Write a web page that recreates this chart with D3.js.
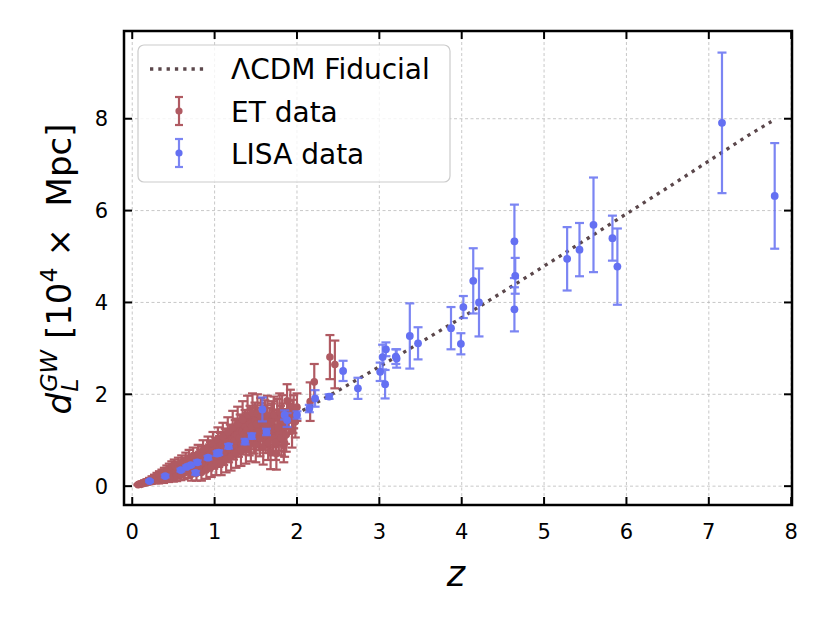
<!DOCTYPE html>
<html>
<head>
<meta charset="utf-8">
<script src="https://cdn.jsdelivr.net/npm/d3@7"></script>
<style>
  body { margin: 0; background: #fff; }
  text { font-family: "DejaVu Sans", sans-serif; }
</style>
</head>
<body>
<svg id="chart" width="830" height="623"></svg>
<script>
// fiducial LCDM curve (z, d_L in 1e4 Mpc)
const fidZ = [0.05, 0.1, 0.25, 0.5, 0.75, 1.0, 1.25, 1.5, 1.75, 2.0, 2.5, 3.0, 3.5, 4.0, 4.5, 5.0, 5.5, 6.0, 6.5, 7.0, 7.5, 7.76];
const fidD = [0.023, 0.046, 0.126, 0.286, 0.466, 0.666, 0.88, 1.11, 1.34, 1.58, 2.08, 2.6, 3.13, 3.67, 4.23, 4.79, 5.36, 5.93, 6.5, 7.08, 7.66, 7.94];

// ET data
const etZ = [0.07, 0.08, 0.10, 0.11, 0.12, 0.14, 0.15, 0.17, 0.18, 0.20, 0.21, 0.23, 0.24, 0.26, 0.27, 0.29, 0.30, 0.32, 0.33, 0.35,
  0.36, 0.38, 0.39, 0.41, 0.42, 0.44, 0.45, 0.47, 0.48, 0.50, 0.51, 0.53, 0.54, 0.56, 0.57, 0.59, 0.60, 0.62, 0.63, 0.65,
  0.66, 0.68, 0.69, 0.71, 0.72, 0.74, 0.75, 0.77, 0.78, 0.80, 0.81, 0.83, 0.84, 0.86, 0.87, 0.89, 0.90, 0.92, 0.93, 0.95,
  0.96, 0.98, 0.99, 1.01, 1.02, 1.04, 1.05, 1.07, 1.08, 1.10, 1.11, 1.13, 1.14, 1.16, 1.17, 1.19, 1.20, 1.22, 1.23, 1.25,
  1.26, 1.28, 1.29, 1.31, 1.32, 1.34, 1.35, 1.37, 1.38, 1.40, 1.41, 1.43, 1.44, 1.46, 1.47, 1.49, 1.50, 1.52, 1.53, 1.55,
  1.56, 1.58, 1.59, 1.61, 1.62, 1.64, 1.65, 1.67, 1.68, 1.70, 1.71, 1.73, 1.75, 1.76, 1.78, 1.80, 1.82, 1.84, 1.85, 1.86,
  1.88, 1.90, 1.92, 1.94, 1.96, 1.98, 2.00, 2.16, 2.21, 2.40, 2.46,
  0.55, 0.64, 0.73, 0.82, 0.85, 0.91, 0.94, 0.97, 1.00, 1.03, 1.06, 1.09, 1.12, 1.15, 1.18, 1.21, 1.24, 1.27, 1.30, 1.33,
  1.36, 1.39, 1.42, 1.45, 1.48, 1.51, 1.54, 1.57, 1.60, 1.63, 1.66, 1.69, 1.72, 1.74, 1.77, 1.79, 1.81, 1.83, 1.87, 1.95];
const etD = [0.03, 0.04, 0.05, 0.04, 0.07, 0.06, 0.09, 0.07, 0.11, 0.09, 0.13, 0.10, 0.16, 0.12, 0.19, 0.14, 0.22, 0.12, 0.25, 0.17,
  0.28, 0.14, 0.31, 0.20, 0.35, 0.17, 0.38, 0.24, 0.42, 0.20, 0.45, 0.30, 0.22, 0.48, 0.35, 0.25, 0.52, 0.40, 0.28, 0.57,
  0.44, 0.32, 0.62, 0.48, 0.26, 0.66, 0.38, 0.54, 0.28, 0.70, 0.45, 0.60, 0.30, 0.78, 0.50, 0.66, 0.36, 0.84, 0.56, 0.72,
  0.42, 0.92, 0.62, 0.80, 0.48, 1.00, 0.68, 0.88, 0.50, 1.08, 0.74, 0.95, 0.58, 1.18, 0.82, 1.02, 0.64, 1.28, 0.90, 1.10,
  0.72, 1.35, 0.98, 1.20, 0.78, 1.45, 1.05, 1.28, 0.85, 1.55, 1.12, 1.35, 0.92, 1.60, 1.20, 1.42, 0.90, 1.58, 1.25, 1.05,
  1.50, 1.30, 0.85, 1.45, 1.12, 1.55, 0.95, 1.30, 0.75, 1.45, 1.05, 1.25, 0.71, 1.50, 1.15, 1.35, 1.58, 0.88, 0.94, 1.30,
  1.86, 1.50, 1.74, 1.20, 1.62, 1.40, 1.72, 1.84, 2.27, 2.81, 2.65,
  0.38, 0.47, 0.50, 0.56, 0.66, 0.60, 0.68, 0.76, 0.66, 0.75, 0.82, 0.90, 0.86, 0.95, 0.92, 1.00, 0.98, 1.12, 1.05, 1.18,
  1.15, 1.22, 1.05, 1.30, 1.10, 1.35, 1.18, 1.40, 1.25, 1.35, 1.18, 1.40, 1.55, 0.95, 1.28, 1.62, 1.05, 1.42, 1.12, 1.52];
const etErr = [0.01, 0.015, 0.02, 0.02, 0.03, 0.03, 0.035, 0.035, 0.04, 0.045, 0.05, 0.05, 0.055, 0.055, 0.06, 0.06, 0.07, 0.06, 0.075, 0.07,
  0.08, 0.07, 0.09, 0.08, 0.10, 0.08, 0.11, 0.10, 0.12, 0.10, 0.13, 0.12, 0.11, 0.14, 0.13, 0.12, 0.15, 0.14, 0.13, 0.16,
  0.15, 0.14, 0.17, 0.16, 0.14, 0.18, 0.16, 0.18, 0.16, 0.20, 0.18, 0.20, 0.18, 0.22, 0.20, 0.22, 0.20, 0.24, 0.22, 0.24,
  0.22, 0.26, 0.24, 0.26, 0.24, 0.28, 0.26, 0.28, 0.26, 0.30, 0.28, 0.30, 0.28, 0.32, 0.30, 0.32, 0.30, 0.36, 0.32, 0.34,
  0.32, 0.38, 0.34, 0.36, 0.34, 0.40, 0.36, 0.38, 0.36, 0.42, 0.38, 0.40, 0.38, 0.42, 0.40, 0.40, 0.38, 0.42, 0.40, 0.40,
  0.42, 0.40, 0.38, 0.42, 0.40, 0.42, 0.38, 0.40, 0.38, 0.40, 0.38, 0.40, 0.35, 0.40, 0.38, 0.40, 0.40, 0.36, 0.30, 0.38,
  0.36, 0.36, 0.36, 0.36, 0.36, 0.34, 0.30, 0.42, 0.39, 0.48, 0.52,
  0.13, 0.15, 0.17, 0.19, 0.20, 0.22, 0.23, 0.24, 0.24, 0.26, 0.27, 0.28, 0.29, 0.30, 0.31, 0.32, 0.33, 0.35, 0.35, 0.37,
  0.37, 0.38, 0.38, 0.40, 0.39, 0.41, 0.40, 0.41, 0.40, 0.41, 0.40, 0.40, 0.40, 0.38, 0.39, 0.40, 0.38, 0.38, 0.37, 0.36];

// LISA data
const lisaZ = [0.21, 0.40, 0.59, 0.66, 0.71, 0.77, 0.79, 0.92, 1.03, 1.05, 1.17, 1.37, 1.45, 1.63, 1.58, 1.85, 1.88, 2.00, 2.15, 2.22,
  2.39, 2.56, 2.74, 3.01, 3.04, 3.07, 3.08, 3.20, 3.21, 3.37, 3.47, 3.87, 3.99, 4.02, 4.14, 4.21, 4.64, 4.65, 4.64, 5.28,
  5.43, 5.60, 5.83, 5.89, 7.16, 7.80];
const lisaD = [0.11, 0.22, 0.35, 0.42, 0.46, 0.29, 0.52, 0.62, 0.71, 0.73, 0.87, 0.97, 1.09, 1.18, 1.67, 1.55, 1.44, 1.55, 1.69, 1.91,
  1.95, 2.51, 2.13, 2.49, 2.81, 2.22, 2.98, 2.82, 2.78, 3.27, 3.11, 3.44, 3.10, 3.90, 4.47, 4.00, 5.33, 4.58, 3.85, 4.95,
  5.15, 5.69, 5.40, 4.78, 7.91, 6.32];
const lisaErr = [0.02, 0.03, 0.03, 0.03, 0.03, 0.04, 0.04, 0.04, 0.05, 0.05, 0.05, 0.06, 0.06, 0.07, 0.26, 0.10, 0.15, 0.08, 0.08, 0.18,
  0.05, 0.22, 0.23, 0.20, 0.27, 0.31, 0.15, 0.16, 0.20, 0.71, 0.35, 0.46, 0.23, 0.24, 0.71, 0.74, 0.80, 0.39, 0.48, 0.69,
  0.58, 1.03, 0.49, 0.83, 1.53, 1.15];

const xTicks = [0, 1, 2, 3, 4, 5, 6, 7, 8];
const yTicks = [0, 2, 4, 6, 8];

const etColor = "#b05a62", lisaColor = "#6470f2", fidColor = "#5b474b";

const svg = d3.select("#chart");
const mLeft = 124, mRight = 792, mTop = 31, mBottom = 505;

const x = d3.scaleLinear().domain([-0.1, 8.01]).range([mLeft, mRight]);
const y = d3.scaleLinear().domain([-0.41, 9.91]).range([mBottom, mTop]);

// grid
const grid = svg.append("g");
grid.selectAll(".gx").data(xTicks).enter().append("line")
  .attr("x1", d => x(d)).attr("x2", d => x(d)).attr("y1", mTop).attr("y2", mBottom)
  .attr("stroke", "#b0b0b0").attr("stroke-width", 0.7).attr("stroke-dasharray", "3,2.5");
grid.selectAll(".gy").data(yTicks).enter().append("line")
  .attr("y1", d => y(d)).attr("y2", d => y(d)).attr("x1", mLeft).attr("x2", mRight)
  .attr("stroke", "#b0b0b0").attr("stroke-width", 0.7).attr("stroke-dasharray", "3,2.5");

const plot = svg.append("g");

// fiducial
const fid = fidZ.map((z, i) => ({ z: z, d: fidD[i] }));
plot.append("path").datum(fid)
  .attr("d", d3.line().x(d => x(d.z)).y(d => y(d.d)))
  .attr("fill", "none").attr("stroke", fidColor).attr("stroke-width", 3.3)
  .attr("stroke-dasharray", "3.3,5");

function errorbars(zs, ds, es, color, r, barOpacity) {
  const pts = zs.map((z, i) => ({ z: z, d: ds[i], e: es[i] }));
  const g = plot.append("g");
  const bars = g.append("g").attr("stroke", color).attr("stroke-width", 2.2).attr("opacity", barOpacity);
  pts.forEach(p => {
    const y1 = y(p.d - p.e), y2 = y(p.d + p.e), cx = x(p.z);
    bars.append("line").attr("x1", cx).attr("x2", cx).attr("y1", y1).attr("y2", y2);
    bars.append("line").attr("x1", cx - 4.5).attr("x2", cx + 4.5).attr("y1", y1).attr("y2", y1);
    bars.append("line").attr("x1", cx - 4.5).attr("x2", cx + 4.5).attr("y1", y2).attr("y2", y2);
  });
  g.selectAll("circle").data(pts).enter().append("circle")
    .attr("cx", d => x(d.z)).attr("cy", d => y(d.d)).attr("r", r)
    .attr("fill", color);
}

errorbars(etZ, etD, etErr, etColor, 3.8, 1);
errorbars(lisaZ, lisaD, lisaErr, lisaColor, 3.9, 0.85);

// frame
svg.append("rect").attr("x", mLeft).attr("y", mTop).attr("width", mRight - mLeft).attr("height", mBottom - mTop)
  .attr("fill", "none").attr("stroke", "#000").attr("stroke-width", 2.5);

// inward ticks on all sides
const tk = svg.append("g").attr("stroke", "#000").attr("stroke-width", 2);
xTicks.forEach(t => {
  tk.append("line").attr("x1", x(t)).attr("x2", x(t)).attr("y1", mBottom).attr("y2", mBottom - 8);
  tk.append("line").attr("x1", x(t)).attr("x2", x(t)).attr("y1", mTop).attr("y2", mTop + 8);
});
yTicks.forEach(t => {
  tk.append("line").attr("y1", y(t)).attr("y2", y(t)).attr("x1", mLeft).attr("x2", mLeft + 8);
  tk.append("line").attr("y1", y(t)).attr("y2", y(t)).attr("x1", mRight).attr("x2", mRight - 8);
});

svg.append("g").selectAll("text").data(xTicks).enter().append("text")
  .attr("x", d => x(d)).attr("y", 539).attr("text-anchor", "middle")
  .attr("font-size", 21).text(d => d);
svg.append("g").selectAll("text").data(yTicks).enter().append("text")
  .attr("x", 108).attr("y", d => y(d) + 7.5).attr("text-anchor", "end")
  .attr("font-size", 21).text(d => d);

// x label
svg.append("text").attr("x", 456).attr("y", 586).attr("text-anchor", "middle")
  .attr("font-size", 35).attr("font-style", "italic").text("z");

// y label: d_L^{GW} [10^4 x Mpc]
const yl = svg.append("g").attr("transform", "translate(71,269) rotate(-90)");
const fs = 34;
let cx = 0;
const t1 = yl.append("text").attr("font-size", fs).attr("font-style", "italic").text("d");
cx = t1.node().getComputedTextLength();
const sup = yl.append("text").attr("font-size", fs * 0.7).attr("font-style", "italic")
  .attr("x", cx + 1).attr("y", -fs * 0.42).text("GW");
const sub = yl.append("text").attr("font-size", fs * 0.7).attr("font-style", "italic")
  .attr("x", cx + 1).attr("y", fs * 0.22).text("L");
cx += 1 + Math.max(sup.node().getComputedTextLength(), sub.node().getComputedTextLength());
const t2 = yl.append("text").attr("font-size", fs).attr("x", cx).text("\u00a0[10");
cx += t2.node().getComputedTextLength();
const t3 = yl.append("text").attr("font-size", fs * 0.7).attr("x", cx).attr("y", -fs * 0.42).text("4");
cx += t3.node().getComputedTextLength();
const t4 = yl.append("text").attr("font-size", fs).attr("x", cx).text("\u00a0\u00d7\u00a0 Mpc]");
cx += t4.node().getComputedTextLength();
yl.selectAll("text").attr("transform", `translate(${-cx / 2},0)`);

// legend
const lg = svg.append("g");
lg.append("rect").attr("x", 138).attr("y", 45).attr("width", 312).attr("height", 137).attr("rx", 6)
  .attr("fill", "#fff").attr("fill-opacity", 0.8).attr("stroke", "#cccccc").attr("stroke-width", 1.2);
lg.append("line").attr("x1", 150).attr("x2", 208).attr("y1", 69).attr("y2", 69)
  .attr("stroke", fidColor).attr("stroke-width", 3.3).attr("stroke-dasharray", "3.3,5");
[[111, etColor, 1], [153, lisaColor, 0.85]].forEach(([cy, col, op]) => {
  const g = lg.append("g");
  const b = g.append("g").attr("stroke", col).attr("stroke-width", 2.2).attr("opacity", op);
  b.append("line").attr("x1", 179).attr("x2", 179).attr("y1", cy - 14).attr("y2", cy + 14);
  b.append("line").attr("x1", 175).attr("x2", 183).attr("y1", cy - 14).attr("y2", cy - 14);
  b.append("line").attr("x1", 175).attr("x2", 183).attr("y1", cy + 14).attr("y2", cy + 14);
  g.append("circle").attr("cx", 179).attr("cy", cy).attr("r", 3.6).attr("fill", col);
});
const legendLabels = ["\u039bCDM Fiducial", "ET data", "LISA data"];
lg.selectAll("text.lab").data(legendLabels).enter().append("text")
  .attr("x", 231).attr("y", (d, i) => 79 + i * 42.5).attr("font-size", 28).text(d => d);
</script>
</body>
</html>
